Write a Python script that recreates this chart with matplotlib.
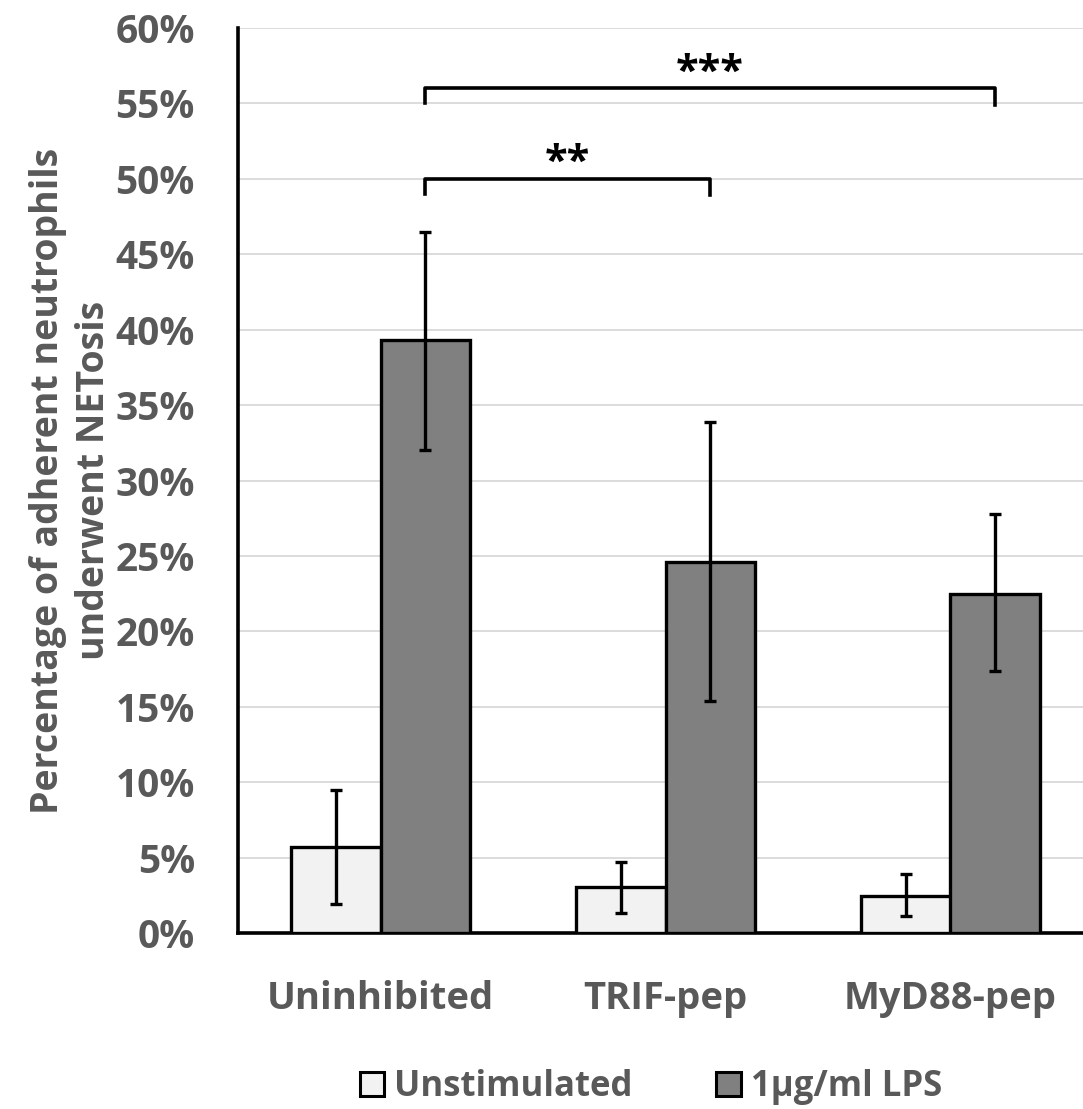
import numpy as np
import matplotlib.pyplot as plt
from matplotlib.patches import Patch

# data (percent)
groups = ['Uninhibited', 'TRIF-pep', 'MyD88-pep']
series = ['Unstimulated', '1\u00b5g/ml LPS']
unstim = [5.7, 3.05, 2.45]
unstim_lo = [1.9, 1.3, 1.1]
unstim_hi = [9.5, 4.7, 3.9]
lps = [39.3, 24.6, 22.5]
lps_lo = [32.0, 15.4, 17.4]
lps_hi = [46.5, 33.9, 27.8]
colors = ['#f2f2f2', '#808080']
# significance brackets: (from group, to group, height, label)
brackets = [(0, 2, 56.0, '***'), (0, 1, 50.0, '**')]

plt.rcParams['font.family'] = ['Open Sans', 'DejaVu Sans']
txt = '#595959'

fig = plt.figure(figsize=(10.83, 11.09), dpi=100)
ax = fig.add_axes([238/1083, 1 - 933/1109, 855/1083, 905/1109])

x = np.arange(len(groups))
w = 0.313
vals = [unstim, lps]
lo = [unstim_lo, lps_lo]
hi = [unstim_hi, lps_hi]
for i in range(2):
    v = np.array(vals[i])
    err = [v - np.array(lo[i]), np.array(hi[i]) - v]
    xs = x + (i - 0.5) * w
    ax.bar(xs, v, width=w, color=colors[i], edgecolor='black',
           linewidth=2.4, zorder=3)
    ax.errorbar(xs, v, yerr=err, fmt='none', ecolor='black',
                elinewidth=2.4, capsize=4, capthick=2.4, zorder=4)

for g1, g2, h, lab in brackets:
    x1, x2 = g1 + 0.5 * w, g2 + 0.5 * w
    ax.plot([x1, x1, x2, x2], [h - 1.0, h, h, h - 1.1], color='black',
            lw=2.6, solid_joinstyle='round', zorder=5, clip_on=False)
    ax.text((x1 + x2) / 2, h + 1.0, lab, ha='center', va='center',
            fontsize=30, fontweight='bold', color='black')

ax.set_xlim(-0.5, 2.5)
ax.set_ylim(0, 60)
ax.set_yticks(np.arange(0, 61, 5))
ax.set_yticklabels([f'{t}%' for t in range(0, 61, 5)])
ax.set_xticks(x)
ax.set_xticklabels(groups)
ax.grid(axis='y', color='#d9d9d9', lw=1.3, zorder=0)
ax.tick_params(axis='both', length=0, labelcolor=txt)
ax.tick_params(axis='x', pad=34, labelsize=27.5)
ax.tick_params(axis='y', pad=31, labelsize=28)
for lab in ax.get_xticklabels() + ax.get_yticklabels():
    lab.set_fontweight('bold')
for s in ['top', 'right']:
    ax.spines[s].set_visible(False)
for s in ['left', 'bottom']:
    ax.spines[s].set_linewidth(2.6)
ax.set_ylabel('Percentage of adherent neutrophils\nunderwent NETosis',
              fontsize=27, fontweight='bold', color=txt, labelpad=2,
              linespacing=1.28)

handles = [Patch(facecolor=c, edgecolor='black', linewidth=2.2) for c in colors]
fig.legend(handles, series, loc='center', bbox_to_anchor=(651/1083, 1 - 1087/1109),
           ncol=2, frameon=False, prop={'size': 25, 'weight': 'bold'},
           handlelength=0.7, handleheight=0.7, handletextpad=0.3,
           columnspacing=2.4, labelcolor=txt)

fig.savefig('out.png', dpi=100)
